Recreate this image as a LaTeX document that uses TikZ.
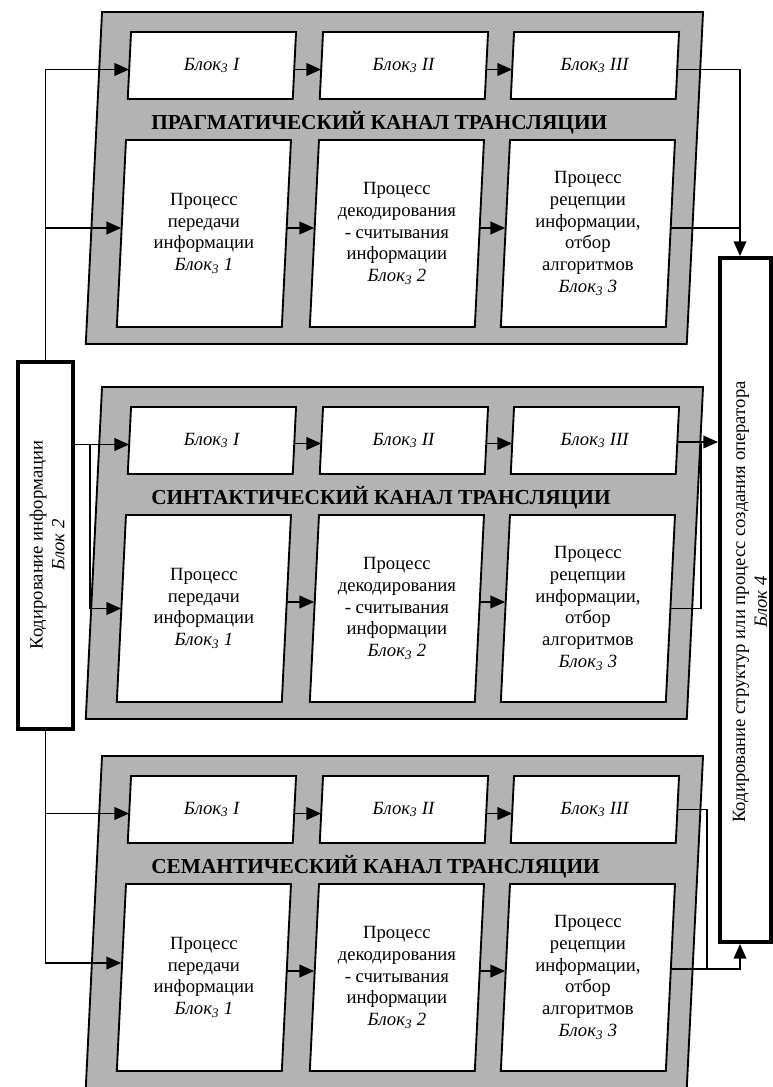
\documentclass[tikz,border=0pt]{standalone}
\usepackage{fontspec}
\setmainfont{Liberation Serif}
\usetikzlibrary{arrows.meta,calc}
\definecolor{panelgray}{RGB}{179,179,179}
% slanted box: [style]{name}{cx}{cy}{w}{h}{text}  (all in px, y downwards)
\newcommand{\slantbox}[7][whiteshape]{%
  \path[#1] ({#3-#5/2+0.049*#6/2},{#4-#6/2}) -- ({#3+#5/2+0.049*#6/2},{#4-#6/2})
    -- ({#3+#5/2-0.049*#6/2},{#4+#6/2}) -- ({#3-#5/2-0.049*#6/2},{#4+#6/2}) -- cycle;
  \node[boxtext, minimum width={#5*0.75pt}, minimum height={#6*0.75pt}] (#2) at (#3,#4) {#7};
}
\begin{document}
\begin{tikzpicture}[x=0.75pt,y=-0.75pt,
  boxtext/.style={align=center, inner sep=0pt, font=\fontsize{14}{16.3}\selectfont},
  titletext/.style={inner sep=0pt, font=\bfseries\fontsize{16}{19}\selectfont},
  panelshape/.style={fill=panelgray, draw=black, line width=1.4pt, line join=miter},
  whiteshape/.style={fill=white, draw=black, line width=1.4pt, line join=miter},
  thickbox/.style={draw=black, fill=white, line width=3pt, inner sep=0pt},
  conn/.style={draw=black, line width=1.1pt},
  arr/.style={conn, -{Triangle[length=11pt,width=9.5pt]}},
]
\useasboundingbox (0,0) rectangle (773,1087);
\fill[white] (0,0) rectangle (773,1087);
\clip (0,0) rectangle (773,1087);

% ---------- Panel 1: pragmatic ----------
\slantbox[panelshape]{p1}{394.4}{178}{601}{332}{}
\slantbox{p1I}{211.9}{65.5}{165}{67}{\textit{Блок\textsubscript{3} I}}
\slantbox{p1II}{403.9}{65.5}{165}{67}{\textit{Блок\textsubscript{3} II}}
\slantbox{p1III}{594.9}{65.5}{165}{67}{\textit{Блок\textsubscript{3} III}}
\node[titletext, anchor=base west] (t1) at (151,129.5) {ПРАГМАТИЧЕСКИЙ КАНАЛ ТРАНСЛЯЦИИ};
\slantbox{p1b1}{203.9}{233.5}{165}{187}{Процесс\\передачи\\информации\\\textit{Блок\textsubscript{3} 1}}
\slantbox{p1b2}{396.9}{233.5}{165}{187}{Процесс\\декодирования\\- считывания\\информации\\\textit{Блок\textsubscript{3} 2}}
\slantbox{p1b3}{587.9}{233.5}{165}{187}{Процесс\\рецепции\\информации,\\отбор\\алгоритмов\\\textit{Блок\textsubscript{3} 3}}

% ---------- Panel 2: syntactic ----------
\slantbox[panelshape]{p2}{394.4}{553}{601}{332}{}
\slantbox{p2I}{211.9}{440.5}{165}{67}{\textit{Блок\textsubscript{3} I}}
\slantbox{p2II}{403.9}{440.5}{165}{67}{\textit{Блок\textsubscript{3} II}}
\slantbox{p2III}{594.9}{440.5}{165}{67}{\textit{Блок\textsubscript{3} III}}
\node[titletext, anchor=base west] (t2) at (151,504.5) {СИНТАКТИЧЕСКИЙ КАНАЛ ТРАНСЛЯЦИИ};
\slantbox{p2b1}{203.9}{608.5}{165}{187}{Процесс\\передачи\\информации\\\textit{Блок\textsubscript{3} 1}}
\slantbox{p2b2}{396.9}{608.5}{165}{187}{Процесс\\декодирования\\- считывания\\информации\\\textit{Блок\textsubscript{3} 2}}
\slantbox{p2b3}{587.9}{608.5}{165}{187}{Процесс\\рецепции\\информации,\\отбор\\алгоритмов\\\textit{Блок\textsubscript{3} 3}}

% ---------- Panel 3: semantic ----------
\slantbox[panelshape]{p3}{394.4}{922}{601}{332}{}
\slantbox{p3I}{211.9}{809.5}{165}{67}{\textit{Блок\textsubscript{3} I}}
\slantbox{p3II}{403.9}{809.5}{165}{67}{\textit{Блок\textsubscript{3} II}}
\slantbox{p3III}{594.9}{809.5}{165}{67}{\textit{Блок\textsubscript{3} III}}
\node[titletext, anchor=base west] (t3) at (151,873.5) {СЕМАНТИЧЕСКИЙ КАНАЛ ТРАНСЛЯЦИИ};
\slantbox{p3b1}{203.9}{977.5}{165}{187}{Процесс\\передачи\\информации\\\textit{Блок\textsubscript{3} 1}}
\slantbox{p3b2}{396.9}{977.5}{165}{187}{Процесс\\декодирования\\- считывания\\информации\\\textit{Блок\textsubscript{3} 2}}
\slantbox{p3b3}{587.9}{977.5}{165}{187}{Процесс\\рецепции\\информации,\\отбор\\алгоритмов\\\textit{Блок\textsubscript{3} 3}}

% ---------- Block 2 and Block 4 ----------
\node[thickbox, minimum width=55*0.75pt, minimum height=367*0.75pt] (blk2) at (45.5,545.5) {};
\node[boxtext, rotate=90] (blk2t) at (47,545) {Кодирование информации\\\textit{Блок 2}};
\node[thickbox, minimum width=51*0.75pt, minimum height=684*0.75pt] (blk4) at (745.5,600) {};
\node[boxtext, rotate=90] (blk4t) at (750,602) {Кодирование структур или процесс создания оператора\\\textit{Блок 4}};

\coordinate (j4top) at ($(blk4.north west)+(22,0)$);
\coordinate (j4bot) at ($(blk4.south west)+(22,0)$);

% ---------- Connectors panel 1 ----------
\coordinate (p1in1) at ($(p1I.west)+(0,4)$);
\coordinate (p1in2) at ($(p1b1.west)+(0,-5.5)$);
\draw[arr] (blk2.north) |- (p1in1);
\draw[arr] (blk2.north |- p1in2) -- (p1in2);
\draw[arr] ($(p1I.east)+(0,4)$) -- ($(p1II.west)+(0,4)$);
\draw[arr] ($(p1II.east)+(0,4)$) -- ($(p1III.west)+(0,4)$);
\draw[arr] ($(p1b1.east)+(0,-5.5)$) -- ($(p1b2.west)+(0,-5.5)$);
\draw[arr] ($(p1b2.east)+(0,-5.5)$) -- ($(p1b3.west)+(0,-5.5)$);
\coordinate (p1out1) at ($(p1III.east)+(0,4)$);
\coordinate (p1out2) at ($(p1b3.east)+(0,-5.5)$);
\draw[arr] (p1out1) -| (j4top);
\draw[conn] (p1out2) -- (j4top |- p1out2);

% ---------- Connectors panel 2 ----------
\coordinate (p2in1) at ($(p2I.west)+(0,4)$);
\coordinate (p2j) at ($(blk2.east |- p2in1)+(15,0)$);
\coordinate (p2in2) at (p2b1.west);
\draw[arr] (blk2.east |- p2in1) -- (p2in1);
\draw[arr] (p2j) |- (p2in2);
\draw[arr] ($(p2I.east)+(0,3)$) -- ($(p2II.west)+(0,3)$);
\draw[arr] ($(p2II.east)+(0,3)$) -- ($(p2III.west)+(0,3)$);
\draw[arr] ($(p2b1.east)+(0,-6.5)$) -- ($(p2b2.west)+(0,-6.5)$);
\draw[arr] ($(p2b2.east)+(0,-6.5)$) -- ($(p2b3.west)+(0,-6.5)$);
\coordinate (p2out1) at ($(p2III.east)+(0,1.5)$);
\coordinate (p2j2) at ($(blk4.west |- p2out1)+(-17,0)$);
\draw[arr] (p2out1) -- (blk4.west |- p2out1);
\draw[conn] (p2b3.east) -| (p2j2);

% ---------- Connectors panel 3 ----------
\coordinate (p3in1) at ($(p3I.west)+(0,4)$);
\coordinate (p3in2) at ($(p3b1.west)+(0,-14.5)$);
\draw[arr] (blk2.south) |- (p3in2);
\draw[arr] (blk2.south |- p3in1) -- (p3in1);
\draw[arr] ($(p3I.east)+(0,4)$) -- ($(p3II.west)+(0,4)$);
\draw[arr] ($(p3II.east)+(0,4)$) -- ($(p3III.west)+(0,4)$);
\draw[arr] ($(p3b1.east)+(0,-6.5)$) -- ($(p3b2.west)+(0,-6.5)$);
\draw[arr] ($(p3b2.east)+(0,-6.5)$) -- ($(p3b3.west)+(0,-6.5)$);
\coordinate (p3out1) at (p3III.east);
\coordinate (p3out2) at ($(p3b3.east)+(0,-8.5)$);
\coordinate (p3j) at ($(j4bot |- p3out2)+(-33,0)$);
\draw[arr] (p3out2) -| (j4bot);
\draw[conn] (p3out1) -| (p3j);
\end{tikzpicture}
\end{document}
